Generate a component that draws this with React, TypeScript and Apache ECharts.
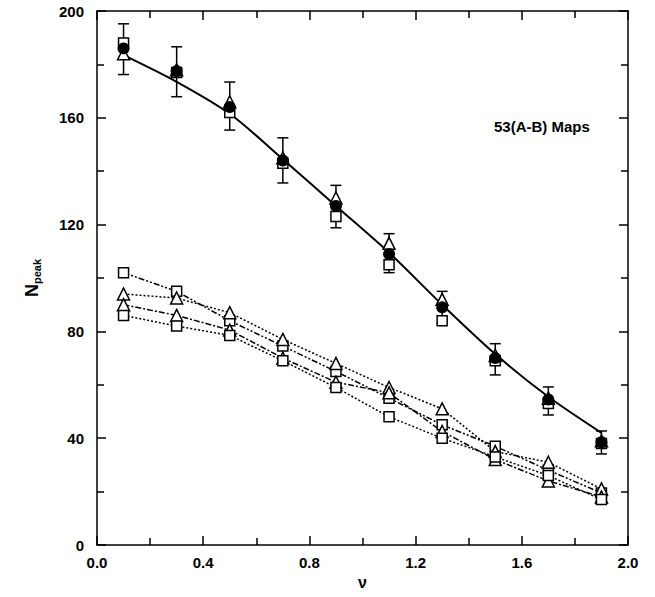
import React, { useEffect, useRef } from "react";
import * as echarts from "echarts";

const xs = [0.1, 0.3, 0.5, 0.7, 0.9, 1.1, 1.3, 1.5, 1.7, 1.9];
const xTicks = ["0.0", "0.4", "0.8", "1.2", "1.6", "2.0"];
const yTicks = ["0", "40", "80", "120", "160", "200"];

// upper group
const circleVals = [186, 177.5, 164, 144, 127, 109, 89, 70, 54.5, 38.5];
const triUpVals = [184, 178, 166, 145, 130, 113, 92, 71, 55, 39];
const sqUpVals = [188, 177, 162, 143, 123, 105, 84, 69, 53, 38];
const fitVals = [183.5, 173.5, 161.5, 144.5, 127, 109.5, 90, 71.5, 55.5, 42];
const errHigh = [195.2, 186.6, 173.4, 152.5, 134.7, 116.6, 95, 75.4, 59.2, 42.7];
const errLow = [176.2, 167.9, 155.4, 135.6, 118.8, 102, 83, 63.7, 48.7, 34.1];

// lower group
const sqLowA = [102, 95, 84, 74.5, 65, 55, 45, 37, 28, 19.5];
const triLowB = [94, 92.5, 87, 77, 68, 59, 51, 35, 31, 21];
const triLowC = [90, 86, 80.5, 70, 61, 57, 42.5, 32, 24, 18];
const sqLowD = [86, 82, 78.5, 69, 59, 48, 40, 33, 26, 17];

const legendText = "53(A-B) Maps";

const FONT = "Liberation Sans";

export default function App() {
  const ref = useRef<HTMLDivElement>(null);
  useEffect(() => {
    if (!ref.current) return;
    const chart = echarts.init(ref.current, undefined, { renderer: "svg" });
    const pair = (v: number[]) => xs.map((x, i) => [x, v[i]]);
    const openMarker = { color: "#fff", borderColor: "#000", borderWidth: 1.5, opacity: 1 };
    const lowerLine = (name: string, vals: number[], symbol: string, dash: number[], size: number) => ({
      name,
      type: "line",
      data: pair(vals),
      symbol,
      symbolSize: size,
      showSymbol: true,
      lineStyle: { color: "#000", width: 1.5, type: dash },
      itemStyle: openMarker,
      z: 3,
    });
    const axisCommon = {
      axisLine: { show: true, onZero: false, lineStyle: { color: "#000", width: 1.5 } },
      axisTick: { show: true, inside: true, length: 9, lineStyle: { color: "#000", width: 1.5 } },
      minorTick: { show: true, splitNumber: 2, length: 7, lineStyle: { color: "#000", width: 1.5 } },
      splitLine: { show: false },
      minorSplitLine: { show: false },
    };
    chart.setOption({
      animation: false,
      backgroundColor: "#fff",
      grid: { left: 97, right: 27, top: 11, bottom: 52 },
      xAxis: [
        {
          type: "value",
          min: 0,
          max: 2,
          interval: 0.4,
          position: "bottom",
          ...axisCommon,
          axisLabel: {
            fontFamily: FONT,
            fontWeight: "bold",
            fontSize: 15,
            color: "#000",
            margin: 10,
            formatter: (v: number) => xTicks[Math.round(v / 0.4)] ?? "",
          },
          name: "ν",
          nameLocation: "middle",
          nameGap: 28,
          nameTextStyle: { fontFamily: FONT, fontWeight: "bold", fontSize: 16, color: "#000" },
        },
        {
          type: "value",
          min: 0,
          max: 2,
          interval: 0.4,
          position: "top",
          ...axisCommon,
          axisLabel: { show: false },
        },
      ],
      yAxis: [
        {
          type: "value",
          min: 0,
          max: 200,
          interval: 40,
          position: "left",
          ...axisCommon,
          axisLabel: {
            fontFamily: FONT,
            fontWeight: "bold",
            fontSize: 15,
            color: "#000",
            margin: 13,
            formatter: (v: number) => yTicks[Math.round(v / 40)] ?? "",
          },
          name: "{n|N}{s|peak}",
          nameLocation: "middle",
          nameGap: 55,
          nameRotate: 90,
          nameTextStyle: {
            rich: {
              n: { fontFamily: FONT, fontWeight: "bold", fontSize: 18, color: "#000" },
              s: { fontFamily: FONT, fontWeight: "bold", fontSize: 11, color: "#000", padding: [10, 0, 0, 0] },
            },
          },
        },
        {
          type: "value",
          min: 0,
          max: 200,
          interval: 40,
          position: "right",
          ...axisCommon,
          axisLabel: { show: false },
        },
      ],
      graphic: [
        {
          type: "text",
          left: 494,
          top: 119,
          style: { text: legendText, fontFamily: FONT, fontWeight: "bold", fontSize: 15, fill: "#000" },
        },
      ],
      series: [
        {
          name: "fit",
          type: "line",
          data: pair(fitVals),
          smooth: 0.3,
          showSymbol: false,
          symbol: "none",
          lineStyle: { color: "#000", width: 2 },
          z: 2,
        },
        {
          name: "err",
          type: "custom",
          data: xs.map((x, i) => [x, errLow[i], errHigh[i]]),
          renderItem: (params: any, api: any) => {
            const lo = api.coord([api.value(0), api.value(1)]);
            const hi = api.coord([api.value(0), api.value(2)]);
            const w = 5.5;
            const st = { stroke: "#000", lineWidth: 1.5 };
            return {
              type: "group",
              children: [
                { type: "line", shape: { x1: lo[0], y1: lo[1], x2: hi[0], y2: hi[1] }, style: st },
                { type: "line", shape: { x1: lo[0] - w, y1: lo[1], x2: lo[0] + w, y2: lo[1] }, style: st },
                { type: "line", shape: { x1: hi[0] - w, y1: hi[1], x2: hi[0] + w, y2: hi[1] }, style: st },
              ],
            };
          },
          z: 3,
        },
        {
          name: "sqUp",
          type: "scatter",
          data: pair(sqUpVals),
          symbol: "rect",
          symbolSize: 10,
          itemStyle: openMarker,
          z: 4,
        },
        {
          name: "triUp",
          type: "scatter",
          data: pair(triUpVals),
          symbol: "triangle",
          symbolSize: 12,
          itemStyle: openMarker,
          z: 4,
        },
        {
          name: "circle",
          type: "scatter",
          data: pair(circleVals),
          symbol: "circle",
          symbolSize: 12,
          itemStyle: { color: "#000", opacity: 1 },
          z: 5,
        },
        lowerLine("A", sqLowA, "rect", [6, 2, 2, 2, 2, 2], 10),
        lowerLine("B", triLowB, "triangle", [2, 2], 12),
        lowerLine("C", triLowC, "triangle", [6, 2, 2, 2], 12),
        lowerLine("D", sqLowD, "rect", [2, 2], 10),
      ],
    });
    return () => chart.dispose();
  }, []);
  return <div ref={ref} style={{ position: "fixed", left: 0, top: 0, width: 655, height: 597 }} />;
}
